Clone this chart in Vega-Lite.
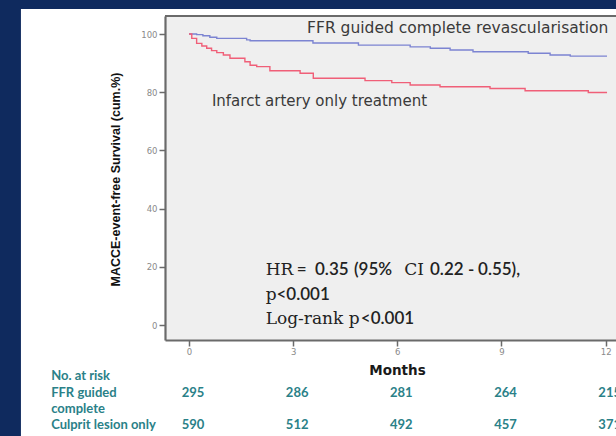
{
  "$schema": "https://vega.github.io/schema/vega-lite/v6.json",
  "width": 451,
  "height": 324,
  "padding": {"left": 165, "top": 16, "right": 0, "bottom": 96},
  "autosize": {"type": "none"},
  "background": "#0f2a5e",
  "config": {
    "view": {"stroke": null}
  },
  "resolve": {"axis": {"x": "independent", "y": "independent"}},
  "datasets": {
    "km": [
      {"group": "FFR guided complete", "month": 0, "surv": 100},
      {"group": "FFR guided complete", "month": 0.22, "surv": 99.8},
      {"group": "FFR guided complete", "month": 0.4, "surv": 99.4},
      {"group": "FFR guided complete", "month": 0.6, "surv": 98.9},
      {"group": "FFR guided complete", "month": 0.8, "surv": 98.5},
      {"group": "FFR guided complete", "month": 1.66, "surv": 98.0},
      {"group": "FFR guided complete", "month": 1.76, "surv": 97.7},
      {"group": "FFR guided complete", "month": 3.57, "surv": 96.9},
      {"group": "FFR guided complete", "month": 4.88, "surv": 96.2},
      {"group": "FFR guided complete", "month": 6.37, "surv": 95.6},
      {"group": "FFR guided complete", "month": 6.95, "surv": 95.1},
      {"group": "FFR guided complete", "month": 7.52, "surv": 94.5},
      {"group": "FFR guided complete", "month": 8.18, "surv": 93.9},
      {"group": "FFR guided complete", "month": 9.77, "surv": 93.4},
      {"group": "FFR guided complete", "month": 10.4, "surv": 92.8},
      {"group": "FFR guided complete", "month": 10.98, "surv": 92.4},
      {"group": "FFR guided complete", "month": 12.04, "surv": 92.4},
      {"group": "Culprit lesion only", "month": 0, "surv": 100},
      {"group": "Culprit lesion only", "month": 0.08, "surv": 98.5},
      {"group": "Culprit lesion only", "month": 0.22, "surv": 96.8},
      {"group": "Culprit lesion only", "month": 0.37, "surv": 95.9},
      {"group": "Culprit lesion only", "month": 0.51, "surv": 95.1},
      {"group": "Culprit lesion only", "month": 0.65, "surv": 94.3},
      {"group": "Culprit lesion only", "month": 0.8, "surv": 93.6},
      {"group": "Culprit lesion only", "month": 0.99, "surv": 92.8},
      {"group": "Culprit lesion only", "month": 1.18, "surv": 91.7},
      {"group": "Culprit lesion only", "month": 1.61, "surv": 90.5},
      {"group": "Culprit lesion only", "month": 1.76, "surv": 89.3},
      {"group": "Culprit lesion only", "month": 1.95, "surv": 88.8},
      {"group": "Culprit lesion only", "month": 2.33, "surv": 87.4},
      {"group": "Culprit lesion only", "month": 3.2, "surv": 86.5},
      {"group": "Culprit lesion only", "month": 3.58, "surv": 84.8},
      {"group": "Culprit lesion only", "month": 5.07, "surv": 84.0},
      {"group": "Culprit lesion only", "month": 5.84, "surv": 83.3},
      {"group": "Culprit lesion only", "month": 6.37, "surv": 82.5},
      {"group": "Culprit lesion only", "month": 7.23, "surv": 81.9},
      {"group": "Culprit lesion only", "month": 8.67, "surv": 81.3},
      {"group": "Culprit lesion only", "month": 9.68, "surv": 80.5},
      {"group": "Culprit lesion only", "month": 11.5, "surv": 79.9},
      {"group": "Culprit lesion only", "month": 12.04, "surv": 79.9}
    ],
    "risk": [
      {"group": "FFR guided complete", "month": 0, "n": 295},
      {"group": "FFR guided complete", "month": 3, "n": 286},
      {"group": "FFR guided complete", "month": 6, "n": 281},
      {"group": "FFR guided complete", "month": 9, "n": 264},
      {"group": "FFR guided complete", "month": 12, "n": 215},
      {"group": "Culprit lesion only", "month": 0, "n": 590},
      {"group": "Culprit lesion only", "month": 3, "n": 512},
      {"group": "Culprit lesion only", "month": 6, "n": 492},
      {"group": "Culprit lesion only", "month": 9, "n": 457},
      {"group": "Culprit lesion only", "month": 12, "n": 371}
    ],
    "one": [{}]
  },
  "layer": [
    {
      "data": {"name": "one"},
      "mark": {"type": "rect", "fill": "#ffffff"},
      "encoding": {
        "x": {"datum": -4.84, "axis": null},
        "x2": {"datum": 13.5},
        "y": {"datum": 108.6, "axis": null},
        "y2": {"datum": -40}
      }
    },
    {
      "data": {"name": "one"},
      "mark": {"type": "rect", "fill": "#efefef"},
      "encoding": {
        "x": {"datum": -0.691, "axis": null},
        "x2": {"datum": 12.298},
        "y": {"datum": 106.2, "axis": null},
        "y2": {"datum": -5.15}
      }
    },
    {
      "data": {"name": "one"},
      "mark": {"type": "rule", "stroke": "#6a6a6a", "strokeWidth": 2},
      "encoding": {"y": {"datum": 106.2, "axis": null}}
    },
    {
      "data": {"name": "km"},
      "mark": {"type": "line", "interpolate": "step-after", "strokeWidth": 1.4},
      "encoding": {
        "x": {
          "field": "month",
          "type": "quantitative",
          "scale": {"domain": [-0.691, 12.298], "nice": false, "zero": false},
          "axis": {
            "zindex": 2,
            "orient": "bottom",
            "values": [0, 3, 6, 9, 12],
            "grid": false,
            "domainColor": "#6a6a6a",
            "domainWidth": 2.2,
            "tickColor": "#6a6a6a",
            "tickWidth": 1.5,
            "tickSize": 6,
            "labelPadding": 1,
            "labelColor": "#8a8a8a",
            "labelFont": "DejaVu Sans",
            "labelFontSize": 8.5,
            "title": "Months",
            "titleFont": "DejaVu Sans",
            "titleFontSize": 13.5,
            "titleFontWeight": "bold",
            "titleColor": "#1a1a1a",
            "titleX": 232,
            "titleY": 30,
            "titleBaseline": "middle",
            "titleAlign": "center"
          }
        },
        "y": {
          "field": "surv",
          "type": "quantitative",
          "scale": {"domain": [-5.15, 106.2], "nice": false, "zero": false},
          "axis": {
            "zindex": 2,
            "orient": "left",
            "values": [0, 20, 40, 60, 80, 100],
            "grid": false,
            "domainColor": "#6a6a6a",
            "domainWidth": 2.2,
            "tickColor": "#6a6a6a",
            "tickWidth": 1.5,
            "tickSize": 6,
            "labelPadding": 2,
            "labelColor": "#8a8a8a",
            "labelFont": "DejaVu Sans",
            "labelFontSize": 8.5,
            "title": "MACCE-event-free Survival (cum.%)",
            "titleFont": "Liberation Sans",
            "titleFontSize": 12.5,
            "titleFontWeight": "bold",
            "titleColor": "#111111",
            "titleAngle": -90,
            "titleX": -50,
            "titleY": 163,
            "titleAlign": "center",
            "titleBaseline": "middle"
          }
        },
        "color": {
          "field": "group",
          "type": "nominal",
          "scale": {"domain": ["FFR guided complete", "Culprit lesion only"], "range": ["#7c84d2", "#f05f78"]},
          "legend": null
        }
      }
    },
    {
      "data": {"name": "one"},
      "mark": {"type": "text", "text": "FFR guided complete revascularisation", "font": "DejaVu Sans", "fontSize": 15.5, "fill": "#3a3a3a", "align": "left", "baseline": "alphabetic"},
      "encoding": {"x": {"datum": 3.4, "axis": null}, "y": {"datum": 100.4, "axis": null}}
    },
    {
      "data": {"name": "one"},
      "mark": {"type": "text", "text": "Infarct artery only treatment", "font": "DejaVu Sans", "fontSize": 15, "fill": "#3a3a3a", "align": "left", "baseline": "alphabetic"},
      "encoding": {"x": {"datum": 0.66, "axis": null}, "y": {"datum": 75.3, "axis": null}}
    },
    {
      "data": {"name": "one"},
      "mark": {"type": "text", "text": "HR", "font": "DejaVu Serif", "fontSize": 17, "fill": "#222222", "align": "left", "baseline": "alphabetic"},
      "encoding": {"x": {"datum": 2.209, "axis": null}, "y": {"datum": 17.2, "axis": null}}
    },
    {
      "data": {"name": "one"},
      "mark": {"type": "text", "text": "=", "font": "Lato", "fontWeight": 600, "fontSize": 17, "fill": "#222222", "align": "left", "baseline": "alphabetic"},
      "encoding": {"x": {"datum": 3.102, "axis": null}, "y": {"datum": 17.2, "axis": null}}
    },
    {
      "data": {"name": "one"},
      "mark": {"type": "text", "text": "0.35", "font": "Lato", "fontWeight": 600, "fontSize": 17, "fill": "#222222", "align": "left", "baseline": "alphabetic"},
      "encoding": {"x": {"datum": 3.629, "axis": null}, "y": {"datum": 17.2, "axis": null}}
    },
    {
      "data": {"name": "one"},
      "mark": {"type": "text", "text": "(95%", "font": "Lato", "fontWeight": 600, "fontSize": 17, "fill": "#222222", "align": "left", "baseline": "alphabetic"},
      "encoding": {"x": {"datum": 4.75, "axis": null}, "y": {"datum": 17.2, "axis": null}}
    },
    {
      "data": {"name": "one"},
      "mark": {"type": "text", "text": "CI", "font": "DejaVu Serif", "fontSize": 17, "fill": "#222222", "align": "left", "baseline": "alphabetic"},
      "encoding": {"x": {"datum": 6.2, "axis": null}, "y": {"datum": 17.2, "axis": null}}
    },
    {
      "data": {"name": "one"},
      "mark": {"type": "text", "text": "0.22", "font": "Lato", "fontWeight": 600, "fontSize": 17, "fill": "#222222", "align": "left", "baseline": "alphabetic"},
      "encoding": {"x": {"datum": 6.941, "axis": null}, "y": {"datum": 17.2, "axis": null}}
    },
    {
      "data": {"name": "one"},
      "mark": {"type": "text", "text": "-", "font": "Lato", "fontWeight": 600, "fontSize": 17, "fill": "#222222", "align": "left", "baseline": "alphabetic"},
      "encoding": {"x": {"datum": 8.035, "axis": null}, "y": {"datum": 17.2, "axis": null}}
    },
    {
      "data": {"name": "one"},
      "mark": {"type": "text", "text": "0.55),", "font": "Lato", "fontWeight": 600, "fontSize": 17, "fill": "#222222", "align": "left", "baseline": "alphabetic"},
      "encoding": {"x": {"datum": 8.324, "axis": null}, "y": {"datum": 17.2, "axis": null}}
    },
    {
      "data": {"name": "one"},
      "mark": {"type": "text", "text": "p", "font": "DejaVu Serif", "fontSize": 17, "fill": "#222222", "align": "left", "baseline": "alphabetic"},
      "encoding": {"x": {"datum": 2.209, "axis": null}, "y": {"datum": 8.6, "axis": null}}
    },
    {
      "data": {"name": "one"},
      "mark": {"type": "text", "text": "<0.001", "font": "Lato", "fontWeight": 600, "fontSize": 17, "fill": "#222222", "align": "left", "baseline": "alphabetic"},
      "encoding": {"x": {"datum": 2.52, "axis": null}, "y": {"datum": 8.6, "axis": null}}
    },
    {
      "data": {"name": "one"},
      "mark": {"type": "text", "text": "Log-rank p", "font": "DejaVu Serif", "fontSize": 17, "fill": "#222222", "align": "left", "baseline": "alphabetic"},
      "encoding": {"x": {"datum": 2.209, "axis": null}, "y": {"datum": 0.2, "axis": null}}
    },
    {
      "data": {"name": "one"},
      "mark": {"type": "text", "text": "<0.001", "font": "Lato", "fontWeight": 600, "fontSize": 17, "fill": "#222222", "align": "left", "baseline": "alphabetic"},
      "encoding": {"x": {"datum": 4.95, "axis": null}, "y": {"datum": 0.2, "axis": null}}
    },
    {
      "data": {"name": "one"},
      "mark": {"type": "text", "text": "No. at risk", "font": "Lato", "fontWeight": "bold", "fontSize": 13, "fill": "#2a8188", "align": "left", "baseline": "middle"},
      "encoding": {"x": {"datum": -3.97, "axis": null}, "y": {"datum": -17.5, "axis": null}}
    },
    {
      "data": {"name": "one"},
      "mark": {"type": "text", "text": ["FFR guided", "complete"], "lineHeight": 16, "font": "Lato", "fontWeight": "bold", "fontSize": 13, "fill": "#2a8188", "align": "left", "baseline": "middle"},
      "encoding": {"x": {"datum": -3.97, "axis": null}, "y": {"datum": -23.4, "axis": null}}
    },
    {
      "data": {"name": "one"},
      "mark": {"type": "text", "text": "Culprit lesion only", "font": "Lato", "fontWeight": "bold", "fontSize": 13, "fill": "#2a8188", "align": "left", "baseline": "middle"},
      "encoding": {"x": {"datum": -3.97, "axis": null}, "y": {"datum": -34.4, "axis": null}}
    },
    {
      "data": {"name": "risk"},
      "transform": [{"filter": "datum.group === 'FFR guided complete'"}],
      "mark": {"type": "text", "font": "Lato", "fontWeight": "bold", "fontSize": 13, "fill": "#2a8188", "align": "center", "baseline": "middle", "dx": 4},
      "encoding": {
        "x": {"field": "month", "type": "quantitative", "axis": null},
        "y": {"datum": -23.4, "axis": null},
        "text": {"field": "n", "type": "quantitative"}
      }
    },
    {
      "data": {"name": "risk"},
      "transform": [{"filter": "datum.group === 'Culprit lesion only'"}],
      "mark": {"type": "text", "font": "Lato", "fontWeight": "bold", "fontSize": 13, "fill": "#2a8188", "align": "center", "baseline": "middle", "dx": 4},
      "encoding": {
        "x": {"field": "month", "type": "quantitative", "axis": null},
        "y": {"datum": -34.4, "axis": null},
        "text": {"field": "n", "type": "quantitative"}
      }
    }
  ]
}
